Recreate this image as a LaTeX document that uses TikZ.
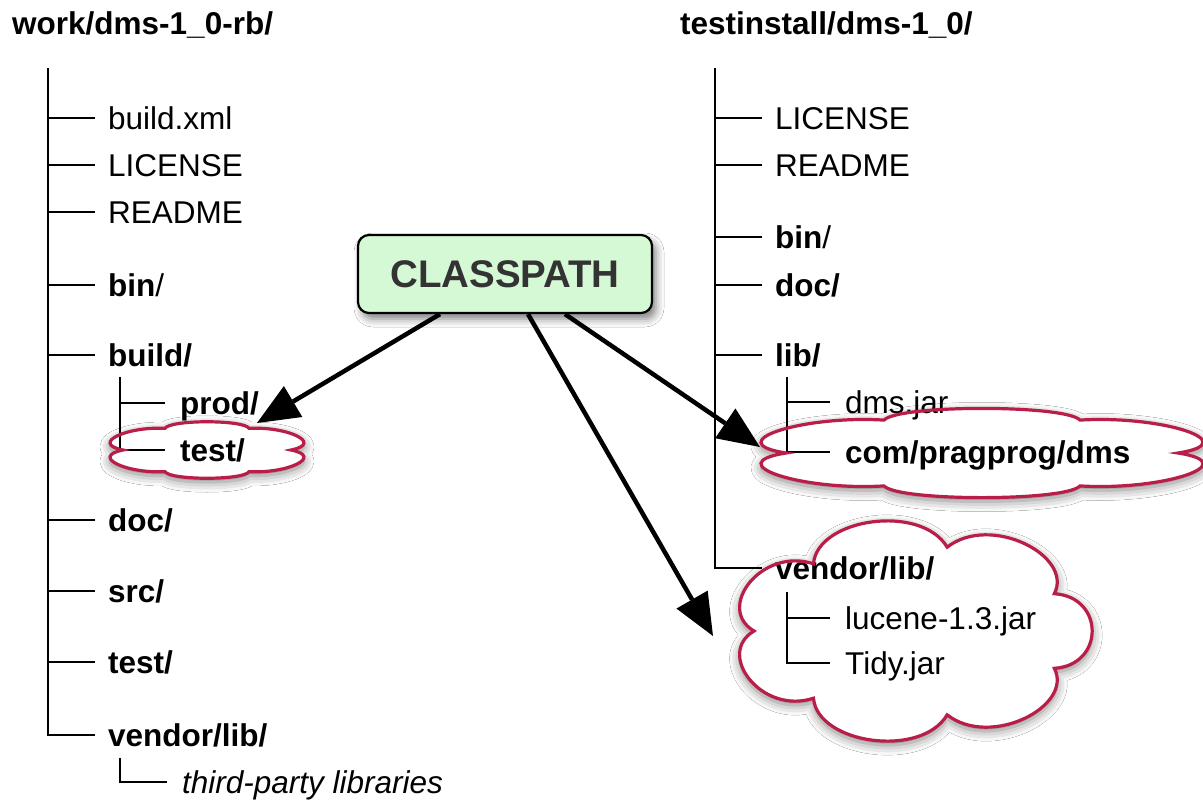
\documentclass[tikz,border=0pt]{standalone}
\usepackage{fontspec}
\setmainfont{Liberation Sans}
\usetikzlibrary{arrows.meta,shadows.blur}
\definecolor{cpgreen}{RGB}{212,249,212}
\definecolor{cloudred}{RGB}{184,30,72}
\definecolor{cptext}{RGB}{51,51,51}
% cloud outline: cx cy a b A B n n-1 start
\newcommand\mycloudpath[9]{%
  ({#1+#3*cos(#9)},{#2+#4*sin(#9)})
  \foreach \k in {1,...,#8}{
    .. controls ({#1+#5*cos(#9+360/#7*(\k-0.8))},{#2+#6*sin(#9+360/#7*(\k-0.8))})
            and ({#1+#5*cos(#9+360/#7*(\k-0.2))},{#2+#6*sin(#9+360/#7*(\k-0.2))})
    .. ({#1+#3*cos(#9+360/#7*\k)},{#2+#4*sin(#9+360/#7*\k)})
  }
  .. controls ({#1+#5*cos(#9+360/#7*(#7-0.8))},{#2+#6*sin(#9+360/#7*(#7-0.8))})
          and ({#1+#5*cos(#9+360/#7*(#7-0.2))},{#2+#6*sin(#9+360/#7*(#7-0.2))})
  .. cycle}
\begin{document}
\begin{tikzpicture}[x=1pt,y=-1pt,
  tree/.style={line width=1.8pt},
  lbl/.style={anchor=west, inner sep=0pt, text height=22.5pt, text depth=0pt, font=\fontsize{31.5}{38}\selectfont},
  dirl/.style={lbl, font=\fontsize{31.5}{38}\selectfont\bfseries},
  ttl/.style={lbl, font=\fontsize{31.5}{38}\selectfont\bfseries},
  arr/.style={draw=black, line width=4.5pt, -{Triangle[length=42pt,width=36pt,fill=black,line width=0pt]}},
  cloudfill/.style={fill=white,
     blur shadow={shadow xshift=0pt, shadow yshift=-4pt, shadow blur radius=10pt, shadow opacity=50}},
  cloudline/.style={draw=cloudred, line width=3.2pt},
]
\useasboundingbox[fill=white] (0,0) rectangle (1203,801);

% clouds: fill and shadow
\path[cloudfill] \mycloudpath{207}{450}{84}{25}{120}{32}{6}{5}{0};
\path[cloudfill] \mycloudpath{982}{453}{196}{38}{270}{51}{6}{5}{0};
\path[cloudfill] \mycloudpath{912}{631}{158}{86}{200}{128}{7}{6}{180};

% titles
\node[ttl] (ltitle) at (12,23) {work/dms-1\_0-rb/};
\node[ttl] (rtitle) at (680,23) {testinstall/dms-1\_0/};

% left tree
\coordinate (ltop) at (48,68);
\node[lbl]  (l1) at (108,118) {build.xml};
\node[lbl]  (l2) at (108,165) {LICENSE};
\node[lbl]  (l3) at (108,212) {README};
\node[lbl]  (l4) at (108,285) {\textbf{bin}/};
\node[dirl] (l5) at (108,355) {build/};
\node[dirl] (l51) at (180,403) {prod/};
\node[dirl] (l52) at (180,450) {test/};
\node[dirl] (l6) at (108,520) {doc/};
\node[dirl] (l7) at (108,591) {src/};
\node[dirl] (l8) at (108,662) {test/};
\node[dirl] (l9) at (108,735) {vendor/lib/};
\node[lbl, font=\fontsize{31.5}{38}\selectfont\itshape] (l91) at (182,782) {third-party libraries};
\coordinate (l5top) at (120,377);
\coordinate (l9top) at (120,758);

\draw[tree] (ltop) |- ([xshift=-13pt]l9.west);
\foreach \n in {l1,l2,l3,l4,l5,l6,l7,l8}
  \draw[tree] ([xshift=-13pt]\n.west) -- ++(-47pt,0);
\draw[tree] (l5top) |- ([xshift=-15pt]l52.west);
\draw[tree] ([xshift=-15pt]l51.west) -- ++(-45pt,0);
\draw[tree] (l9top) |- ([xshift=-15pt]l91.west);

% right tree
\coordinate (rtop) at (715,68);
\node[lbl]  (r1) at (775,118) {LICENSE};
\node[lbl]  (r2) at (775,165) {README};
\node[lbl]  (r3) at (775,237) {\textbf{bin}/};
\node[dirl] (r4) at (775,285) {doc/};
\node[dirl] (r5) at (775,355) {lib/};
\node[lbl]  (r51) at (845,402) {dms.jar};
\node[dirl] (r52) at (845,452) {com/pragprog/dms};
\node[dirl] (r6) at (775,568) {vendor/lib/};
\node[lbl]  (r61) at (845,618) {lucene-1.3.jar};
\node[lbl]  (r62) at (845,663) {Tidy.jar};
\coordinate (r5top) at (787,377);
\coordinate (r6top) at (787,592);

\draw[tree] (rtop) |- ([xshift=-13pt]r6.west);
\foreach \n in {r1,r2,r3,r4,r5}
  \draw[tree] ([xshift=-13pt]\n.west) -- ++(-47pt,0);
\draw[tree] (r5top) |- ([xshift=-15pt]r52.west);
\draw[tree] ([xshift=-15pt]r51.west) -- ++(-43pt,0);
\draw[tree] (r6top) |- ([xshift=-15pt]r62.west);
\draw[tree] ([xshift=-15pt]r61.west) -- ++(-43pt,0);

% cloud outlines
\path[cloudline] \mycloudpath{207}{450}{84}{25}{120}{32}{6}{5}{0};
\path[cloudline] \mycloudpath{982}{453}{196}{38}{270}{51}{6}{5}{0};
\path[cloudline] \mycloudpath{912}{631}{158}{86}{200}{128}{7}{6}{180};

% CLASSPATH box
\node[draw, line width=2.2pt, rounded corners=11pt, fill=cpgreen,
      minimum width=294pt, minimum height=78pt, inner sep=0pt,
      text=cptext, font=\fontsize{38.5}{46}\selectfont\bfseries,
      blur shadow={shadow xshift=4pt, shadow yshift=-6pt, shadow blur radius=8pt, shadow opacity=50}]
      (cp) at (505,274) {CLASSPATH};

% arrows
\coordinate (tipA) at (257,423);
\coordinate (tipB) at (760,447);
\coordinate (tipC) at (713,636);
\draw[arr] ([xshift=-65pt]cp.south) -- (tipA);
\draw[arr] ([xshift=60pt]cp.south) -- (tipB);
\draw[arr] ([xshift=23pt]cp.south) -- (tipC);
\end{tikzpicture}
\end{document}
